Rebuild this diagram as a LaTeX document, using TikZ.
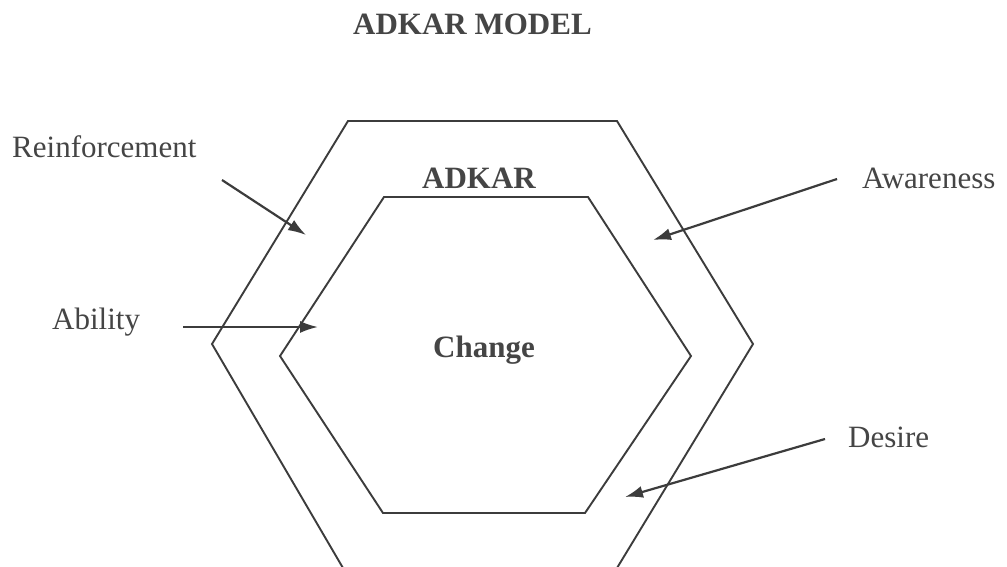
\documentclass[tikz,border=0pt]{standalone}
\usepackage{fontspec}
\setmainfont{Liberation Serif}
\usetikzlibrary{arrows.meta}
\definecolor{ink}{HTML}{3C3C3C}
\definecolor{txt}{HTML}{454545}
\begin{document}
\begin{tikzpicture}[x=1pt,y=-1pt,
  hexline/.style={draw=ink,line width=1.9pt,line join=miter},
  arr/.style={draw=ink,line width=2.2pt,-{Latex[length=18pt,width=12pt]}},
  lbl/.style={anchor=base west,inner sep=0pt,text=txt,font=\fontsize{31}{36}\selectfont},
  blbl/.style={anchor=base west,inner sep=0pt,text=txt,font=\fontsize{31}{36}\selectfont\bfseries}]
\useasboundingbox (0,0) rectangle (1007,566);
\clip (0,0) rectangle (1007,566);
\fill[white] (0,0) rectangle (1007,566);
% hexagons
\draw[hexline] (348,121) -- (617,121) -- (753,344) -- (617,568) -- (343,568) -- (212,344) -- cycle;
\draw[hexline] (384,197) -- (588,197) -- (691,356) -- (585,513) -- (383,513) -- (280,356) -- cycle;
% labels
\node[blbl] (title) at (353,34) {ADKAR MODEL};
\node[blbl] (adkar) at (422,188) {ADKAR};
\node[blbl] (change) at (433,357) {Change};
\node[lbl] (reinf) at (12,157) {Reinforcement};
\node[lbl] (aware) at (862,188) {Awareness};
\node[lbl] (abil) at (52,329) {Ability};
\node[lbl] (desire) at (848,447) {Desire};
% arrow ends
\coordinate (rs) at (222,180); \coordinate (re) at (306,235);
\coordinate (as) at (837,179); \coordinate (ae) at (653,240);
\coordinate (bs) at (183,327); \coordinate (be) at (318,327);
\coordinate (ds) at (825,439); \coordinate (de) at (625,497);
\draw[arr] (rs) -- (re);
\draw[arr] (as) -- (ae);
\draw[arr] (bs) -- (be);
\draw[arr] (ds) -- (de);
\end{tikzpicture}
\end{document}
